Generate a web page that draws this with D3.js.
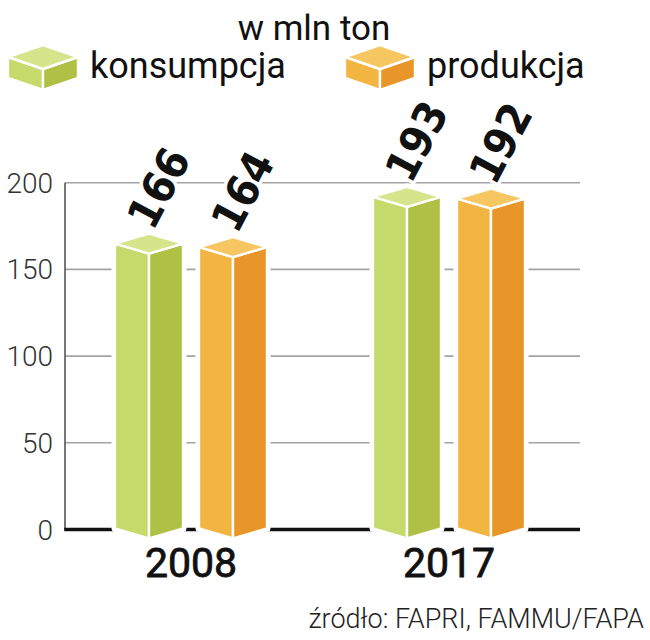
<!DOCTYPE html>
<html>
<head>
<meta charset="utf-8">
<script src="https://cdn.jsdelivr.net/npm/d3@7"></script>
<style>
  html, body { margin: 0; padding: 0; background: #fff; }
  svg { display: block; }
</style>
</head>
<body>
<svg id="chart" width="650" height="640"></svg>
<script>
// ---- data ----
const years = ["2008", "2017"];
const series = ["konsumpcja", "produkcja"];
const konsumpcja = [166, 193];
const produkcja = [164, 192];
const yTicks = [0, 50, 100, 150, 200];
const title = "w mln ton";
const source = "źródło: FAPRI, FAMMU/FAPA";

const values = { konsumpcja, produkcja };
const palette = {
  konsumpcja: { left: "#c6d96b", right: "#afc144", top: "#d6e48c" },
  produkcja:  { left: "#f3b542", right: "#e8962a", top: "#f6c660" }
};

const svg = d3.select("#chart");
const font = "Roboto, 'Noto Sans', sans-serif";

const xLeft = 65, xRight = 580;
const y = d3.scaleLinear().domain([0, 200]).range([529.5, 182.7]);
const x0 = d3.scaleBand().domain(years).range([62, 578]).padding(0);
const x1 = d3.scaleBand().domain(series).range([53, 205]).paddingInner(0.19).paddingOuter(0);

// gridlines
svg.append("g").selectAll("line").data(yTicks.filter(d => d > 0)).join("line")
  .attr("x1", xLeft).attr("x2", xRight)
  .attr("y1", d => y(d)).attr("y2", d => y(d))
  .attr("stroke", "#a3a3a3").attr("stroke-width", 1.6);

// y axis line
svg.append("line").attr("x1", xLeft).attr("x2", xLeft)
  .attr("y1", y(200)).attr("y2", y(0))
  .attr("stroke", "#555").attr("stroke-width", 1.6);

// baseline
svg.append("line").attr("x1", xLeft - 0.8).attr("x2", xRight)
  .attr("y1", y(0)).attr("y2", y(0))
  .attr("stroke", "#111").attr("stroke-width", 3.5);

// y tick labels
svg.append("g").selectAll("text").data(yTicks).join("text")
  .attr("x", 53).attr("y", d => y(d))
  .attr("dy", "0.36em")
  .attr("text-anchor", "end")
  .attr("font-family", font).attr("font-weight", 300)
  .attr("font-size", 28).attr("fill", "#333")
  .text(d => d);

// cube helper
function cube(g, xl, xr, ys, yb, d, cols, halo) {
  const xc = (xl + xr) / 2;
  const outline = [[xl, ys], [xc, ys - d], [xr, ys], [xr, yb], [xc, yb + d], [xl, yb]];
  if (halo) {
    g.append("polygon").attr("points", outline.join(" "))
      .attr("fill", "#fff").attr("stroke", "#fff").attr("stroke-width", halo)
      .attr("stroke-linejoin", "round");
  }
  const faces = [
    { pts: [[xl, ys], [xc, ys + d], [xc, yb + d], [xl, yb]], c: cols.left },
    { pts: [[xc, ys + d], [xr, ys], [xr, yb], [xc, yb + d]], c: cols.right },
    { pts: [[xl, ys], [xc, ys - d], [xr, ys], [xc, ys + d]], c: cols.top }
  ];
  g.selectAll(null).data(faces).join("polygon")
    .attr("points", f => f.pts.join(" "))
    .attr("fill", f => f.c)
    .attr("stroke", "#fff").attr("stroke-width", 2.4)
    .attr("stroke-linejoin", "round");
}

// bars
const barsData = [];
years.forEach((yr, i) => series.forEach(s => barsData.push({ yr, s, v: values[s][i] })));

const gBars = svg.append("g");
barsData.forEach(b => {
  const xl = x0(b.yr) + x1(b.s);
  const xr = xl + x1.bandwidth();
  const ys = y(b.v) + 2;
  cube(gBars.append("g"), xl, xr, ys, y(0) - 1, 10, palette[b.s], 7);
});

// value labels
svg.append("g").selectAll("text").data(barsData).join("text")
  .attr("transform", b => {
    const xc = x0(b.yr) + x1(b.s) + x1.bandwidth() / 2;
    return `translate(${xc + 4},${y(b.v) - 10}) rotate(-62)`;
  })
  .attr("text-anchor", "start")
  .attr("font-family", "'DejaVu Sans Condensed', 'DejaVu Sans', sans-serif")
  .attr("font-stretch", "condensed")
  .attr("font-weight", "bold")
  .attr("font-size", 44).attr("fill", "#111")
  .attr("stroke", "#fff").attr("stroke-width", 7).attr("paint-order", "stroke")
  .attr("stroke-linejoin", "round")
  .text(b => b.v);

// year labels
svg.append("g").selectAll("text").data(years).join("text")
  .attr("x", d => x0(d) + x0.bandwidth() / 2)
  .attr("y", 577)
  .attr("text-anchor", "middle")
  .attr("font-family", font).attr("font-weight", 400)
  .attr("font-size", 41).attr("fill", "#111")
  .attr("stroke", "#111").attr("stroke-width", 0.8)
  .text(d => d);

// title
svg.append("text").attr("x", 314).attr("y", 40)
  .attr("text-anchor", "middle")
  .attr("font-family", font).attr("font-weight", 400)
  .attr("font-size", 35).attr("fill", "#111")
  .text(title);

// legend
const legendX = { konsumpcja: 8, produkcja: 345 };
series.forEach(s => {
  const lg = svg.append("g");
  cube(lg, legendX[s], legendX[s] + 70, 57, 78, 12, palette[s], 0);
  svg.append("text").attr("x", legendX[s] + 82).attr("y", 78)
    .attr("font-family", font).attr("font-weight", 400)
    .attr("font-size", 36).attr("fill", "#111")
    .text(s);
});

// source
svg.append("text").attr("x", 644).attr("y", 628)
  .attr("text-anchor", "end")
  .attr("font-family", font).attr("font-weight", 300)
  .attr("font-size", 27).attr("fill", "#222")
  .text(source);
</script>
</body>
</html>
